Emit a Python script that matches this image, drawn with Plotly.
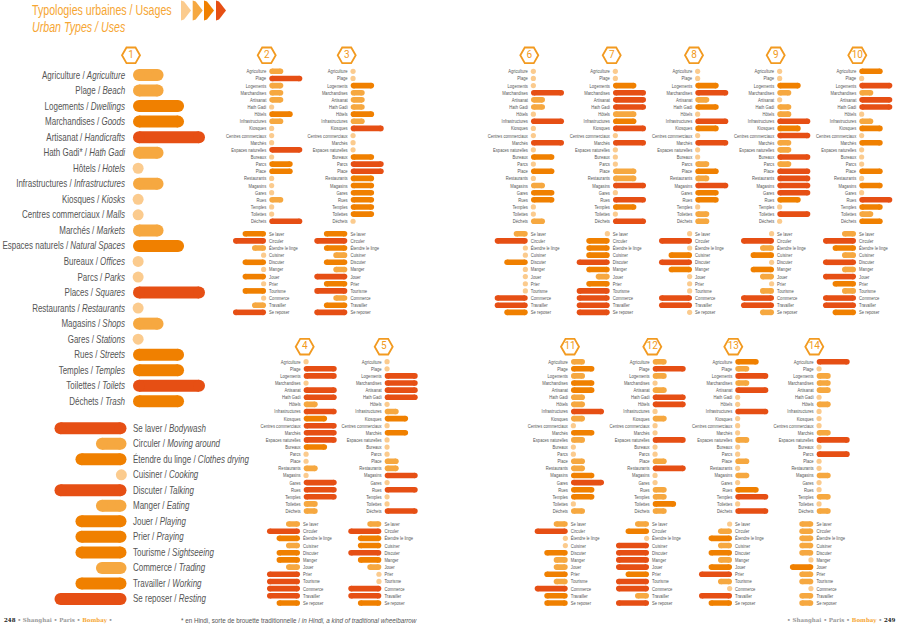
import plotly.graph_objects as go

W, H = 900, 626
TYPES_MAIN = ["Agriculture / <i>Agriculture</i>", "Plage / <i>Beach</i>", "Logements / <i>Dwellings</i>",
    "Marchandises / <i>Goods</i>", "Artisanat / <i>Handicrafts</i>", "Hath Gadi* / <i>Hath Gadi</i>",
    "Hôtels / <i>Hotels</i>", "Infrastructures / <i>Infrastructures</i>", "Kiosques / <i>Kiosks</i>",
    "Centres commerciaux / <i>Malls</i>", "Marchés / <i>Markets</i>", "Espaces naturels / <i>Natural Spaces</i>",
    "Bureaux / <i>Offices</i>", "Parcs / <i>Parks</i>", "Places / <i>Squares</i>", "Restaurants / <i>Restaurants</i>",
    "Magasins / <i>Shops</i>", "Gares / <i>Stations</i>", "Rues / <i>Streets</i>", "Temples / <i>Temples</i>",
    "Toilettes / <i>Toilets</i>", "Déchets / <i>Trash</i>"]
USES_MAIN = ["Se laver / <i>Bodywash</i>", "Circuler / <i>Moving around</i>", "Étendre du linge / <i>Clothes drying</i>",
    "Cuisiner / <i>Cooking</i>", "Discuter / <i>Talking</i>", "Manger / <i>Eating</i>", "Jouer / <i>Playing</i>",
    "Prier / <i>Praying</i>", "Tourisme / <i>Sightseeing</i>", "Commerce / <i>Trading</i>",
    "Travailler / <i>Working</i>", "Se reposer / <i>Resting</i>"]
TYPES_SMALL = ["Agriculture", "Plage", "Logements", "Marchandises", "Artisanat", "Hath Gadi", "Hôtels",
    "Infrastructures", "Kiosques", "Centres commerciaux", "Marchés", "Espaces naturelles", "Bureaux", "Parcs",
    "Place", "Restaurants", "Magasins", "Gares", "Rues", "Temples", "Toilettes", "Déchets"]
USES_SMALL = ["Se laver", "Circuler", "Étendre le linge", "Cuisiner", "Discuter", "Manger", "Jouer", "Prier",
    "Tourisme", "Commerce", "Travailler", "Se reposer"]

# ratings: 0 dot, 1 short, 1.5 medium-length pale, 2 medium, 3 long
T1 = [1,1,2,2,3,1,0,1,0,0,1,2,0,0,3,0,1,0,2,2,3,2]
U1 = [3,1,2,0,3,1,2,2,2,1,2,3]
T2 = [1,3,1,1,1,0,2,1,0,0,0,3,0,2,2,0,0,0,1,0,0,3]
U2 = [2,3,1,0,2,0,2,0,2,0,1,3]
T3 = [0,0,2,1,1,1,2,1,3,0,0,0,2,3,3,2,2,2,2,2,2,0]
U3 = [2,3,2,1,2,1,3,2,3,1,2,3]
T4 = [0,3,3,0,3,3,1,3,2,3,3,3,2,0,0,1,0,3,3,3,1,1]
U4 = [1,3,2,1,2,2,1,3,3,3,3,2]
T5 = [0,0,3,3,3,3,0,1,2,0,2,0,0,0,1,1,3,0,3,0,0,3]
U5 = [1,3,2,2,3,2,1,0,0,3,3,2]
T6 = [0,0,0,3,1,1,0,3,0,0,3,0,2,0,2,0,1,2,2,0,0,1]
U6 = [1,3,0,0,2,0,0,0,0,3,3,2]
T7 = [0,0,2,3,3,3,1.5,2,3,0,3,0,0,0,1.5,1.5,3,0,3,2,0,3]
U7 = [0,2,2,2,3,2,1,2,3,3,3,3]
T8 = [0,0,2,3,1,2,0,3,2,0,3,0,0,1,2,1,3,2,2,0,1,1]
U8 = [0,3,0,2,3,2,0,0,0,3,3,0]
T9 = [0,0,2,1,0,1,1,3,2,3,1,1,3,1,3,3,3,3,2,0,3,0]
U9 = [0,3,1,2,0,2,1,0,1,3,3,1]
T10 = [2,0,3,1,3,3,0,1,2,0,2,0,0,0,2,0,2,0,3,2,1,2]
U10 = [1,3,2,1,3,1,3,2,1,3,3,2]
T11 = [1,2,1,2,2,1,1,3,1,0,2,1,0,0,1,1,2,3,2,2,0,1]
U11 = [1,3,0,0,2,1,1,2,1,3,2,2]
T12 = [1,3,1,0,1,3,3,0,1,0,0,3,0,0,1,3,0,0,1,1,2,1]
U12 = [1,2,0,3,3,3,3,2,3,3,1,3]
T13 = [2,1,3,1,3,0,0,3,0,0,0,1,0,0,1,0,1,0,2,3,0,3]
U13 = [0,1,2,1,2,1,2,3,1,0,3,2]
T14 = [3,0,1,1,1,0,1,0,0,0,1,3,0,3,0,0,1,0,0,1,0,1]
U14 = [1,1,1,1,1,0,2,1,1,0,1,1]
TYPE_DATA = [T1,T2,T3,T4,T5,T6,T7,T8,T9,T10,T11,T12,T13,T14]
USE_DATA = [U1,U2,U3,U4,U5,U6,U7,U8,U9,U10,U11,U12,U13,U14]

# layout (pixels): left edge of type bars, right edge of use bars, badge centre
BAR_X = [133,269.3,350.7,303.7,384.7,531,613,695.3,777.3,859.3,571,652.7,735.3,816.7]
USE_X = [126.5,266,347.3,300,381.3,527.7,609.7,692,774,856,567.7,649,732,813.3]
BADGE_X = [131,266.7,346.7,304.7,383.7,529.3,611.7,694,775.7,857.3,570,652.3,733.3,814.3]
BOTTOM = {4,5,11,12,13,14}

LEN = {0:4.7, 1:14, 1.5:23.4, 2:23.4, 3:33}
COL = {0:"#fbcb8e", 1:"#f6a840", 1.5:"#f6a840", 2:"#f08000", 3:"#e64f14"}
FONT = "Liberation Sans"
TXT = "#555555"
ORANGE = "#f6a633"

fig = go.Figure()
layout = {}
ax = 0

def section(values, labels, x0, y0, dy, scale, thick, dot, font_size, tick_len, is_use):
    global ax
    ax += 1
    xn, yn = f"x{ax}", f"y{ax}"
    xk, yk = f"xaxis{ax}", f"yaxis{ax}"
    n = len(values)
    width = 33 * scale
    left = x0 - width if is_use else x0
    top = y0 - dy / 2
    r = thick / 2 / scale
    for lv in sorted(set(values)):
        idx = [i for i, v in enumerate(values) if v == lv]
        if lv == 0:
            xs = [LEN[0] / 2 for _ in idx]
            ys = idx
            fig.add_trace(go.Scatter(x=xs, y=ys, mode="markers", xaxis=xn, yaxis=yn, cliponaxis=False,
                marker=dict(size=dot, color=COL[0], line=dict(width=0)), hoverinfo="skip", showlegend=False))
        else:
            xs, ys = [], []
            for i in idx:
                xs += [r, LEN[lv] - r, None]
                ys += [i, i, None]
            fig.add_trace(go.Scatter(x=xs, y=ys, mode="lines+markers", xaxis=xn, yaxis=yn, cliponaxis=False,
                line=dict(color=COL[lv], width=thick), marker=dict(size=thick, color=COL[lv], line=dict(width=0)),
                hoverinfo="skip", showlegend=False))
    layout[xk] = dict(domain=[left / W, (left + width) / W], range=[33, 0] if is_use else [0, 33],
        visible=False, anchor=yn, fixedrange=True, automargin=False)
    layout[yk] = dict(domain=[1 - (top + n * dy) / H, 1 - top / H], range=[n - 0.5, -0.5], anchor=xn, automargin=False,
        side="right" if is_use else "left", tickmode="array", tickvals=list(range(n)), ticktext=labels,
        showgrid=False, zeroline=False, showline=False, ticks="outside", ticklen=tick_len,
        tickcolor="rgba(0,0,0,0)", tickfont=dict(family=FONT, size=font_size, color=TXT), fixedrange=True)

for p in range(14):
    num = p + 1
    if num == 1:
        section(T1, TYPES_MAIN, 133, 75, 15.54, 72 / 33, 12, 11, 10, 5, False)
        section(U1, USES_MAIN, 126.5, 428.3, 15.51, 72 / 33, 12, 11, 10, 3.5, True)
    else:
        low = num in BOTTOM
        section(TYPE_DATA[p], TYPES_SMALL, BAR_X[p], 361.7 if low else 71.3, 7.11 if low else 7.14, 1, 5.6, 5.2, 5.6, 1, False)
        section(USE_DATA[p], USES_SMALL, USE_X[p], 524 if low else 233.7, 7.18 if low else 7.15, 1, 5.6, 5.2, 5.6, 1, True)

# decoration axis in page pixels
ax += 1
xd, yd = f"x{ax}", f"y{ax}"
layout[f"xaxis{ax}"] = dict(domain=[0, 1], range=[0, W], visible=False, anchor=yd, fixedrange=True, automargin=False)
layout[f"yaxis{ax}"] = dict(domain=[0, 1], range=[H, 0], visible=False, anchor=xd, fixedrange=True, automargin=False)
fig.add_trace(go.Scatter(
    x=BADGE_X, y=[346.7 if (i + 1) in BOTTOM else 55.3 for i in range(14)],
    mode="markers+text", xaxis=xd, yaxis=yd, text=[str(i + 1) for i in range(14)], textposition="middle center",
    textfont=dict(family="Roboto", size=10, color="#f29a20"),
    marker=dict(symbol="hexagon2-open", size=18, color="#f29a20", line=dict(width=1.8, color="#f29a20")),
    hoverinfo="skip", showlegend=False))

CHEV_X = [186, 197.7, 209, 221]
CHEV_C = ["#fbcb8e", "#f6a840", "#f08000", "#e64f14"]
shapes = []
for cx, c in zip(CHEV_X, CHEV_C):
    shapes.append(dict(type="path", xref=xd, yref=yd, line=dict(width=0), fillcolor=c,
        path=f"M{cx-5},0.5 L{cx-2},1.5 L{cx+5},10.5 L{cx-2},19.5 L{cx-5},20.5 Z"))

def note(x, y, text, size, color, family=FONT, anchor="left"):
    return dict(x=x / W, y=1 - y / H, xref="paper", yref="paper", text=text, showarrow=False, xanchor=anchor,
        yanchor="middle", xshift=0, font=dict(family=family, size=size, color=color), align=anchor)

SER = "DejaVu Serif"
notes = [
    note(30, 10, "Typologies urbaines / Usages", 15, ORANGE),
    note(30, 27, "<i>Urban Types / Uses</i>", 15, ORANGE),
    note(2, 620.5, "<b><span style='color:#222222'>248</span> • Shanghai • Paris • <span style='color:#f6a633'>Bombay</span> •</b>", 5.5, "#999999", SER),
    note(179, 620, "* en Hindi, sorte de brouette traditionnelle / <i>in Hindi, a kind of traditional wheelbarrow</i>", 7.5, TXT),
    note(898, 620.5, "<b>• Shanghai • Paris • <span style='color:#f6a633'>Bombay</span> • <span style='color:#222222'>249</span></b>", 5.5, "#999999", SER, "right"),
]

fig.update_layout(width=W, height=H, margin=dict(l=0, r=0, t=0, b=0, autoexpand=False), paper_bgcolor="white", plot_bgcolor="rgba(0,0,0,0)",
    showlegend=False, shapes=shapes, annotations=notes, **layout)

# The source typeface is a condensed grotesque: narrow the real text horizontally around its anchor.
CONDENSE = """
document.body.style.margin='0';document.body.style.overflow='hidden';
document.querySelectorAll('svg text').forEach(function(t){
  if((t.style.fontFamily||'').indexOf('Liberation Sans')<0) return;
  var s=parseFloat(t.style.fontSize||'10');
  var k=s>=12?0.71:(s>=9?0.8:(s>=7?0.84:0.74));
  var b=t.getBBox();
  var an=getComputedStyle(t).textAnchor;
  var a=an==='end'?b.x+b.width:(an==='middle'?b.x+b.width/2:b.x);
  var old=t.getAttribute('transform')||'';
  t.setAttribute('transform',old+' translate('+a+',0) scale('+k+',1) translate('+(-a)+',0)');
});
"""
fig.write_html("out.html", config={"displayModeBar": False}, post_script=CONDENSE)
